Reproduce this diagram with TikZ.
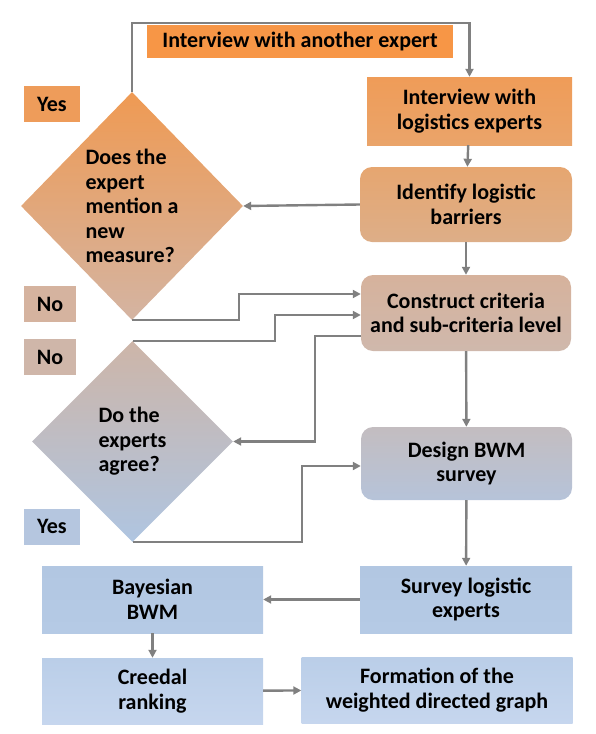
\documentclass[tikz,border=0pt]{standalone}
\usepackage{fontspec}
\setmainfont{Carlito}
\usetikzlibrary{shapes.geometric,arrows.meta}

\definecolor{lineGray}{RGB}{128,128,128}

\begin{document}
\begin{tikzpicture}[x=1pt,y=-1pt,
        every node/.style={font=\fontsize{22}{24.5}\selectfont\bfseries, text=black},
        box/.style={rectangle, draw=none, align=center, inner sep=0pt},
        rbox/.style={box, rounded corners=12pt},
        decision/.style={diamond, draw=none, align=left, inner sep=0pt},
        tag/.style={rectangle, draw=none, inner sep=0pt, minimum height=36pt},
        flow/.style={draw=lineGray, line width=2.4pt, -{Triangle[length=8pt,width=8pt]}}]
        \useasboundingbox (0,0) rectangle (596,734);

        % boxes on the right
        \node[box, fill={rgb,255:red,247;green,150;blue,70}, minimum width=306pt, minimum height=33pt] (another) at (300,41.5) {Interview with another expert};
        \node[box, top color={rgb,255:red,239;green,156;blue,88}, bottom color={rgb,255:red,234;green,164;blue,106}, minimum width=205pt, minimum height=68pt] (interview) at (469.5,111) {Interview with\\logistics experts};
        \node[rbox, top color={rgb,255:red,230;green,166;blue,112}, bottom color={rgb,255:red,221;green,174;blue,136}, minimum width=212pt, minimum height=75pt] (identify) at (466,204.5) {Identify logistic\\barriers};
        \node[rbox, top color={rgb,255:red,214;green,178;blue,156}, bottom color={rgb,255:red,207;green,184;blue,172}, minimum width=210pt, minimum height=76pt] (construct) at (466,313) {Construct criteria\\and sub-criteria level};
        \node[rbox, top color={rgb,255:red,195;green,189;blue,192}, bottom color={rgb,255:red,182;green,195;blue,217}, minimum width=211pt, minimum height=73pt] (design) at (466.5,463.5) {Design BWM\\survey};
        \node[box, top color={rgb,255:red,178;green,199;blue,226}, bottom color={rgb,255:red,181;green,202;blue,229}, minimum width=212pt, minimum height=67pt] (survey) at (466,599.5) {Survey logistic\\experts};

        % boxes at the bottom left
        \node[box, top color={rgb,255:red,178;green,199;blue,226}, bottom color={rgb,255:red,181;green,202;blue,229}, minimum width=221pt, minimum height=67pt] (bayes) at (152.5,599.5) {Bayesian\\BWM};
        \node[box, top color={rgb,255:red,186;green,206;blue,232}, bottom color={rgb,255:red,198;green,214;blue,238}, minimum width=221pt, minimum height=66pt] (creedal) at (152.5,691) {Creedal\\ranking};
        \node[box, top color={rgb,255:red,186;green,206;blue,232}, bottom color={rgb,255:red,198;green,214;blue,238}, minimum width=271pt, minimum height=66pt] (formation) at (437,690) {Formation of the\\weighted directed graph};

        % decisions
        \node[decision, top color={rgb,255:red,239;green,154;blue,83}, bottom color={rgb,255:red,212;green,180;blue,162}, minimum width=222pt, minimum height=228pt] (expert) at (132,206) {Does the\\expert\\mention a\\new\\measure?};
        \node[decision, top color={rgb,255:red,205;green,181;blue,168}, bottom color={rgb,255:red,175;green,197;blue,225}, minimum width=201pt, minimum height=201pt] (agree) at (132.5,441.5) {Do the\\experts\\agree?};

        \node[tag, fill={rgb,255:red,238;green,156;blue,90}, minimum width=56pt] (yesA) at (52,104) {Yes};
        \node[tag, fill={rgb,255:red,213;green,179;blue,159}, minimum width=52pt] (noA) at (50,304) {No};
        \node[tag, fill={rgb,255:red,207;green,182;blue,169}, minimum width=52pt] (noB) at (50,357) {No};
        \node[tag, fill={rgb,255:red,181;green,198;blue,223}, minimum width=56pt] (yesB) at (52,526.5) {Yes};

        \coordinate (loop) at (300,23);
        \coordinate (bendA) at (239,294);
        \coordinate (bendB) at (275,315);
        \coordinate (bendC) at (315,336);
        \coordinate (bendD) at (302,466);

        \draw[flow] (expert.north) |- (loop) -| (interview.north);
        \draw[flow] (interview) -- (identify);
        \draw[flow] (identify.west) -- (expert.east);
        \draw[flow] (identify) -- (construct);
        \draw[flow] (expert.south) -| (bendA) -- (bendA -| construct.west);
        \draw[flow] (agree.north) -| (bendB) -- (bendB -| construct.west);
        \draw[flow] (bendC -| construct.west) -- (bendC) |- (agree.east);
        \draw[flow] (construct) -- (design);
        \draw[flow] (agree.south) -| (bendD) -- (bendD -| design.west);
        \draw[flow] (design) -- (survey);
        \draw[flow] (survey) -- (bayes);
        \draw[flow] (bayes) -- (creedal);
        \draw[flow] (creedal) -- (formation);
\end{tikzpicture}
\end{document}
